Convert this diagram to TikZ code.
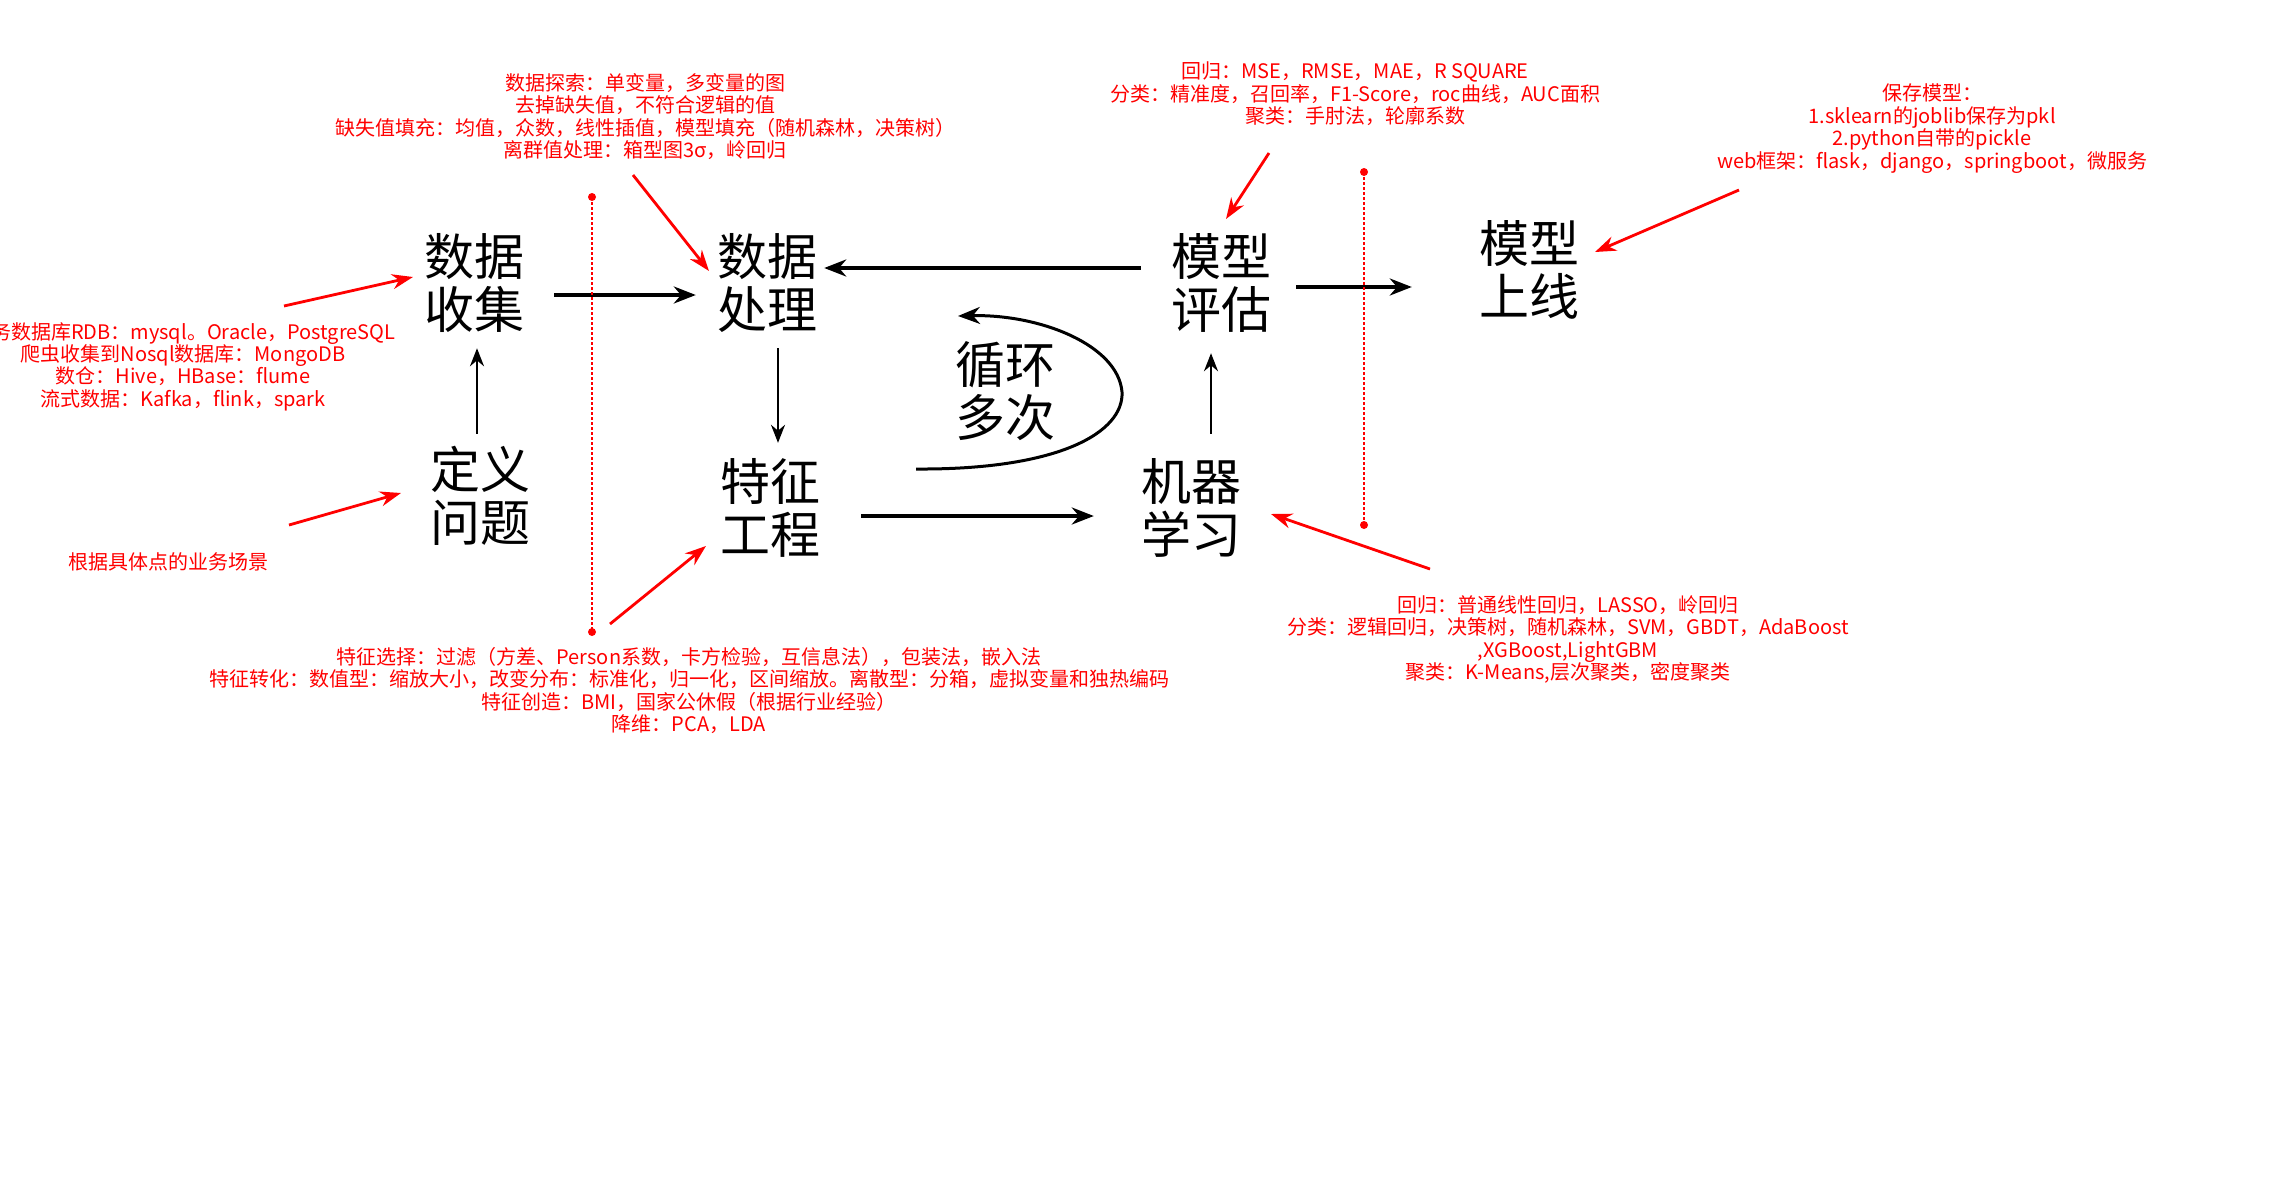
\documentclass[tikz,border=0pt]{standalone}
\usepackage{fontspec}
\setmainfont{Noto Sans CJK SC}
\usetikzlibrary{arrows.meta}

\tikzset{
  stage/.style={font=\fontsize{50}{53}\selectfont, align=center, inner sep=0pt},
  memo/.style={text=red, font=\fontsize{20}{22.4}\selectfont, align=center, inner sep=0pt},
  flow/.style={line width=3.5pt, -{Stealth[length=22pt,width=17pt]}},
  thinflow/.style={line width=2.3pt, -{Stealth[length=18pt,width=14pt]}},
  hint/.style={red, line width=2.8pt, -{Stealth[length=21pt,width=15pt]}},
  guide/.style={red, line width=1.5pt, dash pattern=on 3pt off 2pt},
}

\begin{document}
\begin{tikzpicture}[x=1pt,y=-1pt]
  \useasboundingbox (0,0) rectangle (2288,1183);
  \clip (0,0) rectangle (2288,1183);
  % stages of the workflow
  \node[stage] (define) at (480,496) {定义\\问题};
  \node[stage] (collect) at (474,283) {数据\\收集};
  \node[stage] (process) at (767,283) {数据\\处理};
  \node[stage] (feature) at (770,508) {特征\\工程};
  \node[stage] (learn) at (1191,508) {机器\\学习};
  \node[stage] (evaluate) at (1221,283) {模型\\评估};
  \node[stage] (deploy) at (1529,270) {模型\\上线};
  \node[stage] (loop) at (1005,391) {循环\\多次};
  % black flow arrows
  \draw[thinflow, shorten <=12.5pt, shorten >=15.5pt] ([xshift=-3pt]define.north) -- ([xshift=3pt]collect.south);
  \draw[flow, shorten <=30pt, shorten >=21pt] ([yshift=-12pt]collect.east) -- ([yshift=-12pt]process.west);
  \draw[thinflow, shorten <=15.5pt, shorten >=15.5pt] ([xshift=11pt]process.south) -- ([xshift=8pt]feature.north);
  \draw[flow, shorten <=41pt, shorten >=47pt] ([yshift=-8pt]feature.east) -- ([yshift=-8pt]learn.west);
  \draw[thinflow, shorten <=24.5pt, shorten >=20.5pt] ([xshift=20pt]learn.north) -- ([xshift=-10pt]evaluate.south);
  \draw[flow, shorten <=30pt, shorten >=7pt] ([yshift=15pt]evaluate.west) -- ([yshift=15pt]process.east);
  \draw[flow, shorten <=25pt, shorten >=67pt] ([yshift=-4pt]evaluate.east) -- ([yshift=-17pt]deploy.west);
  % loop back
  \coordinate (loopin) at (916,469);
  \coordinate (loopout) at (958,316);
  \draw[flow, line width=3pt] (loopin) .. controls (1060,470) and (1124,432) .. (1122,392)
    .. controls (1118,345) and (1040,314) .. (loopout);
  % red notes
  \node[memo] (collectnote) at (183,366.5) {业务数据库RDB：mysql。Oracle，PostgreSQL\\爬虫收集到Nosql数据库：MongoDB\\数仓：Hive，HBase：flume\\流式数据：Kafka，flink，spark};
  \node[memo] (definenote) at (168,562) {根据具体点的业务场景};
  \node[memo] (processnote) at (645,116.5) {数据探索：单变量，多变量的图\\去掉缺失值，不符合逻辑的值\\缺失值填充：均值，众数，线性插值，模型填充（随机森林，决策树）\\离群值处理：箱型图3σ，岭回归};
  \node[memo] (featurenote) at (689,690.5) {特征选择：过滤（方差、Person系数，卡方检验，互信息法），包装法，嵌入法\\特征转化：数值型：缩放大小，改变分布：标准化，归一化，区间缩放。离散型：分箱，虚拟变量和独热编码\\特征创造：BMI，国家公休假（根据行业经验）\\降维：PCA，LDA};
  \node[memo] (evalnote) at (1355,94) {回归：MSE，RMSE，MAE，R SQUARE\\分类：精准度，召回率，F1-Score，roc曲线，AUC面积\\聚类：手肘法，轮廓系数};
  \node[memo] (learnnote) at (1568,639.5) {回归：普通线性回归，LASSO，岭回归\\分类：逻辑回归，决策树，随机森林，SVM，GBDT，AdaBoost\\,XGBoost,LightGBM\\聚类：K-Means,层次聚类，密度聚类};
  \node[memo] (deploynote) at (1932,128.5) {保存模型：\\1.sklearn的joblib保存为pkl\\2.python自带的pickle\\web框架：flask，django，springboot，微服务};
  % red pointers
  \coordinate (tcollect) at (284,306);
  \coordinate (tdefine) at (289,525);
  \coordinate (tprocess) at (633,175);
  \coordinate (tfeature) at (610,624);
  \coordinate (tevaluate) at (1269,153);
  \coordinate (tdeploy) at (1739,190);
  \coordinate (tlearn) at (1430,569);
  \draw[hint] (tcollect) -- ([shift={(-61,-6)}]collect.center);
  \draw[hint] (tdefine) -- ([shift={(-79,-3)}]define.center);
  \draw[hint] (tprocess) -- ([shift={(-58,-12)}]process.center);
  \draw[hint] (tfeature) -- ([shift={(-64,38)}]feature.center);
  \draw[hint] (tevaluate) -- ([shift={(5,-64)}]evaluate.center);
  \draw[hint] (tdeploy) -- ([shift={(66,-18)}]deploy.center);
  \draw[hint] (tlearn) -- ([shift={(80,6)}]learn.center);
  % dotted separators
  \draw[guide] (592,197) -- (592,632);
  \fill[red] (592,197) circle (4) (592,632) circle (4);
  \draw[guide] (1364,172) -- (1364,525);
  \fill[red] (1364,172) circle (4) (1364,525) circle (4);
\end{tikzpicture}
\end{document}
